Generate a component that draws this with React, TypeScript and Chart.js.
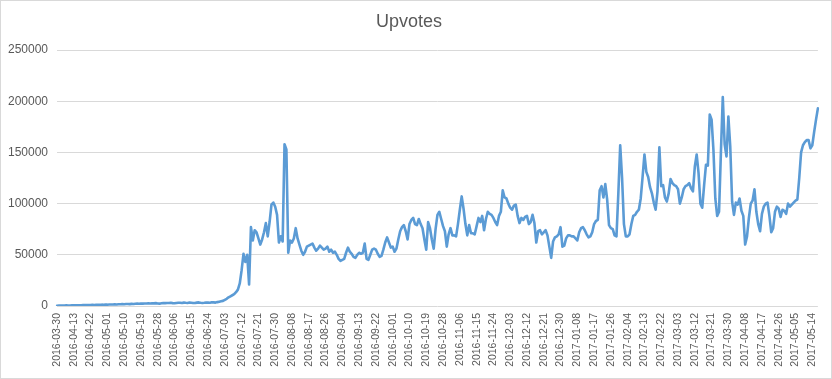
import React, { useEffect, useRef } from 'react';
import { Chart, registerables } from 'chart.js';

Chart.register(...registerables);

const chartTitle = 'Upvotes';
const firstDate = '2016-03-30';
const seriesStart = '2016-04-05';

const upvotes: number[] = [
  300, 400, 350, 500, 450, 600, 550, 500, 650, 700,
  600, 750, 800, 700, 900, 850, 1000, 950, 900, 1100,
  1000, 1200, 1150, 1100, 1300, 1250, 1400, 1300, 1500, 1450,
  1400, 1600, 1500, 1700, 1650, 1800, 1700, 1900, 2000, 1850,
  2100, 2000, 2200, 2300, 2150, 2400, 2300, 2500, 2400, 2600,
  2500, 2700, 2600, 2800, 2500, 2300, 2700, 2900, 2800, 3000,
  2900, 3100, 2800, 2700, 3000, 3200, 3100, 2900, 3300, 3100,
  3000, 3400, 3200, 3000, 2900, 3300, 3500, 3200, 3000, 3100,
  3400, 3300, 3200, 3600, 3500, 3300, 3800, 4200, 4600, 5000,
  6000, 7000, 8500, 9500, 10500, 11500, 13500, 16000, 22000, 35000,
  51000, 43000, 50000, 21000, 77000, 64000, 74000, 72000, 66000, 60000,
  65000, 72000, 81000, 68000, 82000, 99000, 101000, 97000, 89000, 62000,
  68000, 63000, 158000, 153000, 52000, 64000, 62000, 66000, 76000, 66000,
  60000, 54000, 50000, 53000, 58000, 59000, 60000, 61000, 57000, 54000,
  56000, 59000, 57000, 55000, 56000, 58000, 53000, 55000, 52000, 53000,
  50000, 46000, 44000, 45000, 46000, 52000, 57000, 53000, 51000, 48000,
  47000, 50000, 52000, 51000, 52000, 61000, 46000, 45000, 50000, 55000,
  56000, 55000, 51000, 48000, 49000, 55000, 62000, 67000, 62000, 57000,
  58000, 53000, 56000, 65000, 73000, 77000, 79000, 73000, 65000, 80000,
  84000, 86000, 80000, 79000, 85000, 80000, 76000, 65000, 55000, 82000,
  76000, 65000, 56000, 75000, 89000, 92000, 85000, 78000, 73000, 58000,
  70000, 76000, 69000, 69000, 68000, 80000, 94000, 107000, 95000, 80000,
  69000, 79000, 71000, 71000, 70000, 78000, 86000, 82000, 88000, 74000,
  85000, 92000, 90000, 89000, 86000, 82000, 79000, 88000, 92000, 113000,
  106000, 105000, 100000, 96000, 94000, 98000, 99000, 88000, 81000, 86000,
  84000, 87000, 88000, 80000, 82000, 89000, 81000, 62000, 73000, 74000,
  70000, 72000, 74000, 69000, 58000, 47000, 63000, 67000, 68000, 70000,
  77000, 58000, 59000, 66000, 69000, 69000, 68000, 68000, 66000, 64000,
  72000, 76000, 77000, 74000, 70000, 67000, 68000, 72000, 80000, 83000,
  84000, 113000, 117000, 106000, 119000, 104000, 79000, 76000, 75000, 69000,
  68000, 110000, 157000, 125000, 80000, 68000, 68000, 70000, 80000, 88000,
  89000, 92000, 94000, 105000, 126000, 148000, 131000, 126000, 116000, 110000,
  101000, 94000, 112000, 155000, 117000, 118000, 106000, 102000, 110000, 124000,
  120000, 118000, 117000, 114000, 100000, 106000, 114000, 117000, 118000, 120000,
  115000, 112000, 136000, 148000, 130000, 100000, 96000, 118000, 138000, 137000,
  187000, 182000, 152000, 105000, 88000, 92000, 150000, 204000, 158000, 146000,
  185000, 156000, 102000, 89000, 101000, 99000, 105000, 93000, 88000, 60000,
  68000, 86000, 100000, 103000, 114000, 92000, 80000, 73000, 90000, 97000,
  100000, 101000, 88000, 72000, 76000, 92000, 97000, 95000, 87000, 94000,
  93000, 90000, 100000, 97000, 99000, 101000, 103000, 104000, 125000, 150000,
  157000, 160000, 162000, 162000, 154000, 157000, 170000, 182000, 193000,
];

const tickLabels: string[] = [
  '2016-03-30', '2016-04-13', '2016-04-22', '2016-05-01', '2016-05-10', '2016-05-19',
  '2016-05-28', '2016-06-06', '2016-06-15', '2016-06-24', '2016-07-03', '2016-07-12',
  '2016-07-21', '2016-07-30', '2016-08-08', '2016-08-17', '2016-08-26', '2016-09-04',
  '2016-09-13', '2016-09-22', '2016-10-01', '2016-10-10', '2016-10-19', '2016-10-28',
  '2016-11-06', '2016-11-15', '2016-11-24', '2016-12-03', '2016-12-12', '2016-12-21',
  '2016-12-30', '2017-01-08', '2017-01-17', '2017-01-26', '2017-02-04', '2017-02-13',
  '2017-02-22', '2017-03-03', '2017-03-12', '2017-03-21', '2017-03-30', '2017-04-08',
  '2017-04-17', '2017-04-26', '2017-05-05', '2017-05-14',
];

const yMin = 0;
const yMax = 250000;
const yStep = 50000;

function buildCategories(): string[] {
  const cats = [firstDate];
  const d = new Date(seriesStart + 'T00:00:00Z');
  while (cats.length < upvotes.length) {
    cats.push(d.toISOString().slice(0, 10));
    d.setUTCDate(d.getUTCDate() + 1);
  }
  return cats;
}

const FONT = '"Liberation Sans", Arial, sans-serif';
const TEXT = '#595959';
const GRID = '#d9d9d9';

export default function App() {
  const ref = useRef<HTMLCanvasElement | null>(null);

  useEffect(() => {
    if (!ref.current) return;
    const categories = buildCategories();
    const tickSet = new Set(tickLabels);
    const chart = new Chart(ref.current, {
      type: 'line',
      data: {
        labels: categories,
        datasets: [
          {
            label: chartTitle,
            data: upvotes,
            borderColor: '#5b9bd5',
            borderWidth: 2.6,
            pointRadius: 0,
            tension: 0,
            fill: false,
            borderJoinStyle: 'round',
            borderCapStyle: 'round',
          },
        ],
      },
      options: {
        animation: false,
        responsive: false,
        maintainAspectRatio: false,
        layout: { padding: { top: 0, right: 14, bottom: 0, left: 0 } },
        plugins: {
          legend: { display: false },
          tooltip: { enabled: false },
          title: {
            display: true,
            text: chartTitle,
            color: TEXT,
            font: { family: FONT, size: 18, weight: 'normal' },
            padding: { top: 11.2, bottom: 17.2 },
          },
        },
        scales: {
          x: {
            type: 'category',
            grid: { display: false, drawTicks: false },
            border: { display: false },
            ticks: {
              autoSkip: false,
              maxRotation: 90,
              minRotation: 90,
              padding: 7,
              color: TEXT,
              font: { family: FONT, size: 10.5 },
              callback: (_v: any, i: number) => {
                const l = categories[i];
                return tickSet.has(l) ? l : null;
              },
            },
            afterFit: (s: any) => {
              s.height = 73;
            },
          },
          y: {
            min: yMin,
            max: yMax,
            ticks: {
              stepSize: yStep,
              padding: 9,
              color: TEXT,
              font: { family: FONT, size: 12 },
              callback: (v: any) => String(v),
            },
            grid: { color: GRID, drawTicks: false, lineWidth: 1 },
            border: { display: false },
            afterFit: (s: any) => {
              s.width = 57;
            },
          },
        },
      },
    });
    return () => chart.destroy();
  }, []);

  return (
    <div style={{ position: 'absolute', left: 0, top: 0, width: 832, height: 379, background: '#fff' }}>
      <canvas ref={ref} width={832} height={379} style={{ display: 'block', width: 832, height: 379 }} />
      <div
        style={{
          position: 'absolute',
          left: 0,
          top: 0,
          width: 832,
          height: 379,
          boxSizing: 'border-box',
          border: '1px solid #d9d9d9',
          pointerEvents: 'none',
        }}
      />
    </div>
  );
}
